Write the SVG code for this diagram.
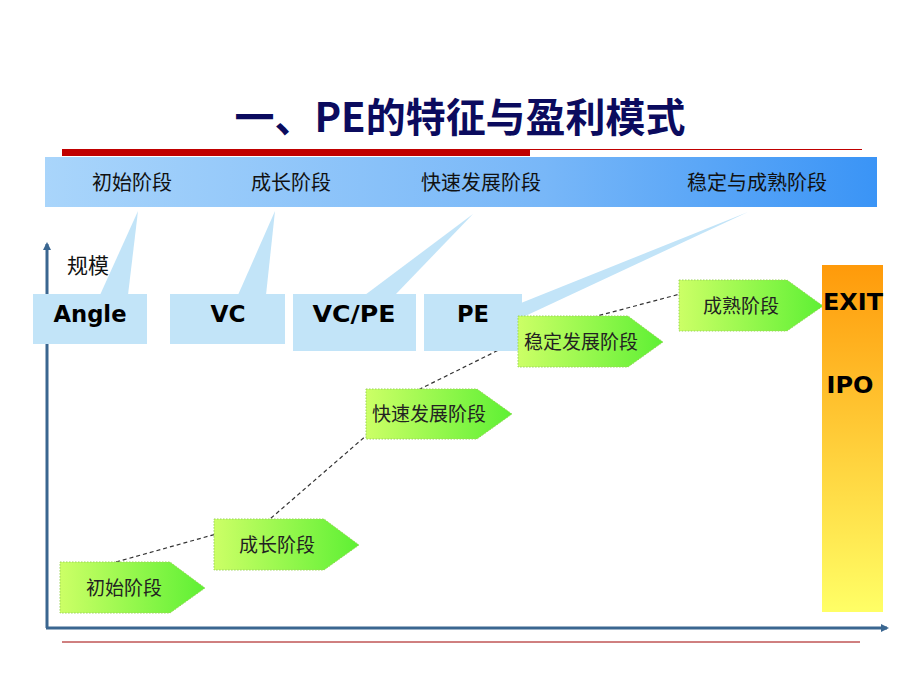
<svg xmlns="http://www.w3.org/2000/svg" width="920" height="690" viewBox="0 0 920 690">
<defs>
<linearGradient id="band" x1="0" y1="0" x2="1" y2="0">
<stop offset="0" stop-color="#a9d5fb"/><stop offset="0.6" stop-color="#78b7f8"/><stop offset="1" stop-color="#3a94f6"/>
</linearGradient>
<linearGradient id="green" x1="0" y1="0" x2="1" y2="0">
<stop offset="0" stop-color="#ccff66"/><stop offset="1" stop-color="#5ef034"/>
</linearGradient>
<linearGradient id="exit" x1="0" y1="0" x2="0" y2="1">
<stop offset="0" stop-color="#ff9a0a"/><stop offset="1" stop-color="#ffff66"/>
</linearGradient>
<marker id="arr" markerWidth="8" markerHeight="8" refX="6" refY="4" orient="auto" markerUnits="userSpaceOnUse" viewBox="0 0 8 8">
<path d="M0,0 L8,4 L0,8 Z" fill="#3a6690"/>
</marker>
<style>
.cj{font-family:"Noto Sans CJK SC","Noto Sans",sans-serif;fill:#111;}
.bt{font-size:20px;text-anchor:middle;}
.gt{font-size:19px;text-anchor:middle;fill:#222;}
.lb{font-family:"DejaVu Sans","Liberation Sans",sans-serif;font-weight:bold;font-size:23px;fill:#000;text-anchor:middle;}
.call{fill:#c2e4f8;}
.arrow{fill:url(#green);stroke:#9ad35a;stroke-width:1;stroke-dasharray:1.5 1.5;}
.axis{stroke:#3a6690;stroke-width:3;fill:none;}
.dash{stroke:#333;stroke-width:1.2;stroke-dasharray:4 3;fill:none;}
</style>
</defs>
<rect width="920" height="690" fill="#fff"/>
<g id="title">
<text x="460" y="132" text-anchor="middle" font-family="Noto Sans CJK SC,sans-serif" font-weight="bold" font-size="40" fill="#0b0b5e" textLength="451" lengthAdjust="spacingAndGlyphs">一、PE的特征与盈利模式</text>
<rect x="62" y="149" width="468" height="7" fill="#c00000"/>
<line x1="530" y1="149.5" x2="862" y2="149.5" stroke="#c00000" stroke-width="1"/>
</g>
<g id="stage-band">
<rect x="45" y="157" width="832" height="50" fill="url(#band)"/>
<text class="cj bt" x="132" y="190">初始阶段</text>
<text class="cj bt" x="291" y="190">成长阶段</text>
<text class="cj bt" x="481" y="190">快速发展阶段</text>
<text class="cj bt" x="757" y="190">稳定与成熟阶段</text>
</g>
<g id="connectors">
<line class="axis" x1="47" y1="628" x2="47" y2="244" marker-end="url(#arr)"/>
<line class="axis" x1="46" y1="628" x2="887" y2="628" marker-end="url(#arr)"/>
<polyline class="dash" points="116,562 270,519 420,389 533,333 733,280"/>
</g>
<g id="scale-label"><text class="cj" x="67" y="273" font-size="21">规模</text></g>
<g id="callout-angle">
<polygon class="call" points="100,295 138,211 128,295"/>
<rect class="call" x="33" y="294" width="114" height="50"/>
<text class="lb" x="90" y="322" textLength="73" lengthAdjust="spacingAndGlyphs">Angle</text>
</g>
<g id="callout-vc">
<polygon class="call" points="238,295 275,211 266,295"/>
<rect class="call" x="170" y="294" width="115" height="50"/>
<text class="lb" x="228" y="322" textLength="35" lengthAdjust="spacingAndGlyphs">VC</text>
</g>
<g id="callout-vcpe">
<polygon class="call" points="365,295 473,214 395,295"/>
<rect class="call" x="293" y="294" width="123" height="57"/>
<text class="lb" x="354" y="322" textLength="83" lengthAdjust="spacingAndGlyphs">VC/PE</text>
</g>
<g id="callout-pe">
<polygon class="call" points="521,303 748,212 521,318"/>
<rect class="call" x="424" y="294" width="98" height="57"/>
<text class="lb" x="473" y="322" textLength="32" lengthAdjust="spacingAndGlyphs">PE</text>
</g>
<g id="stage-1">
<polygon class="arrow" points="60,562 170,562 205,588 170,613 60,613"/>
<text class="cj gt" x="124" y="595">初始阶段</text>
</g>
<g id="stage-2">
<polygon class="arrow" points="214,519 324,519 359,545 324,570 214,570"/>
<text class="cj gt" x="277" y="552">成长阶段</text>
</g>
<g id="stage-3">
<polygon class="arrow" points="366,389 477,389 512,414 477,439 366,439"/>
<text class="cj gt" x="429" y="421">快速发展阶段</text>
</g>
<g id="stage-4">
<polygon class="arrow" points="518,316 628,316 663,342 628,367 518,367"/>
<text class="cj gt" x="581" y="349">稳定发展阶段</text>
</g>
<g id="stage-5">
<polygon class="arrow" points="679,280 787,280 823,306 787,331 679,331"/>
<text class="cj gt" x="741" y="313">成熟阶段</text>
</g>
<g id="exit-bar">
<rect x="822" y="265" width="61" height="347" fill="url(#exit)"/>
<text class="lb" x="853" y="310" textLength="60" lengthAdjust="spacingAndGlyphs">EXIT</text>
<text class="lb" x="850" y="393" textLength="47" lengthAdjust="spacingAndGlyphs">IPO</text>
</g>
<g id="footer"><line x1="62" y1="642" x2="860" y2="642" stroke="#a00000" stroke-width="1"/></g>
</svg>
